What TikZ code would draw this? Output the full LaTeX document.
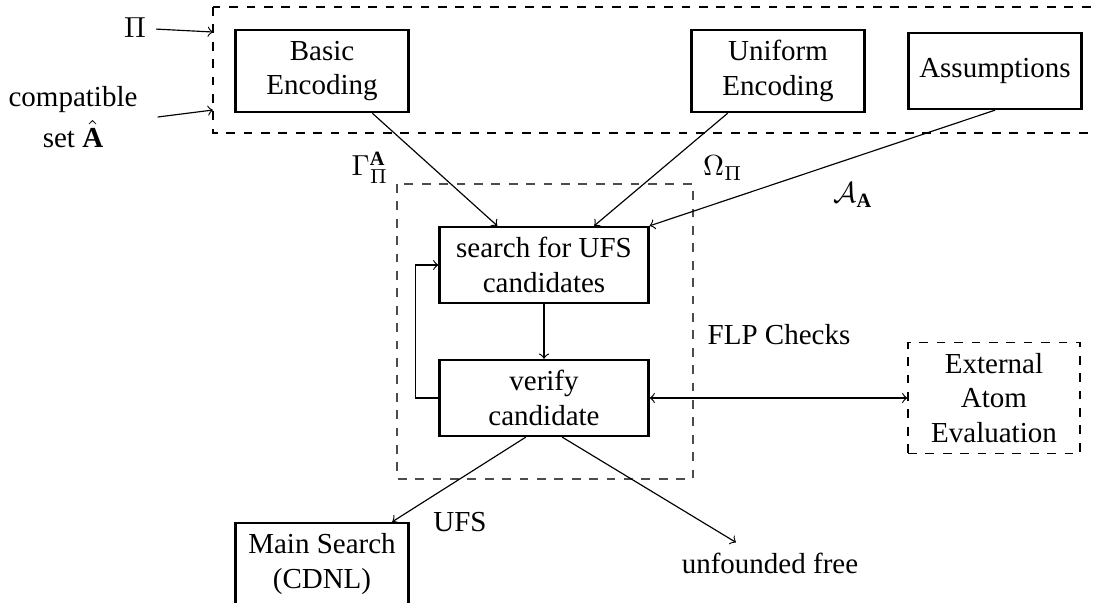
\documentclass[tikz,border=0pt]{standalone}
\usepackage{fontspec}
\setmainfont{Liberation Serif}
\usetikzlibrary{calc}
\begin{document}
\begin{tikzpicture}[x=0.3448pt,y=-0.3448pt,
    block/.style={draw,thick,align=center,minimum width=59.7pt,minimum height=28.3pt,inner sep=2pt},
    wideblock/.style={block,minimum width=72pt,minimum height=26.2pt},
    extbox/.style={draw,dashed,align=center,minimum width=59.3pt,minimum height=38.3pt,inner sep=2pt},
    grouprect/.style={dashed},
    every path/.style={>=to}]
\useasboundingbox (0,0) rectangle (1095,602);
% input group
\draw[grouprect] (213,7) rectangle (1100,133);
\node[block] (basic) at (322,71) {Basic\\Encoding};
\node[block] (uniform) at (778,71) {Uniform\\Encoding};
\node[block,minimum height=26.2pt] (assum) at (995,71) {Assumptions};
\node (pi) at (135,28) {$\Pi$};
\node[align=center] (compat) at (73,117) {compatible\\[2pt]set $\hat{\mathbf{A}}$};
\coordinate (inpi) at (213,32);
\coordinate (inset) at (213,110);
\draw[->] (pi) -- (inpi);
\draw[->] ($(compat.east)+(10,0)$) -- (inset);
% FLP check group
\draw[grouprect,black!70] (397,184) rectangle (693,479);
\node[wideblock] (search) at (544,265) {search for UFS\\candidates};
\node[wideblock] (verify) at (544,398) {verify\\candidate};
\node (flp) at (779,335) {FLP Checks};
\node[extbox] (ext) at (994,398) {External\\Atom\\Evaluation};
\node[block] (main) at (322,564) {Main Search\\(CDNL)};
\node (unf) at (770,563) {unfounded free};
% labels
\node (gammalab) at (370,168) {$\Gamma_{\Pi}^{\mathbf{A}}$};
\node (omegalab) at (723,168) {$\Omega_{\Pi}$};
\node (assumlab) at (853,195) {$\mathcal{A}_{\mathbf{A}}$};
\node (ufslab) at (460,522) {UFS};
% connectors
\draw[->] (basic.-40) -- (search.140);
\draw[->] (uniform.-140) -- (search.38);
\draw[->] (assum.south) -- (search.north east);
\draw[->] (search) -- (verify);
\draw[->] (verify.west) -- ++(-23,0) |- (search.west);
\draw[<->] (verify.east) -- (ext.west);
\draw[->] (verify.-115) -- (main.31);
\draw[->] (verify.-65) -- (unf);
\end{tikzpicture}
\end{document}
